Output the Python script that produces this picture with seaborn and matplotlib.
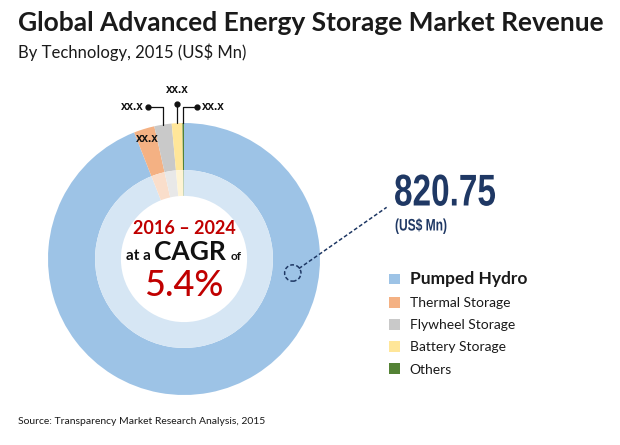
import numpy as np
import matplotlib
matplotlib.use("Agg")
import matplotlib.pyplot as plt
import matplotlib.colors as mcolors
from matplotlib.patches import Circle
from matplotlib.patheffects import AbstractPathEffect
from matplotlib.transforms import Affine2D
import seaborn as sns

# Data
technologies = ["Pumped Hydro", "Thermal Storage", "Flywheel Storage", "Battery Storage", "Others"]
revenue = [820.75, 21.5, 18.0, 11.0, 1.6]
colors = ["#9DC3E6", "#F4B183", "#C9C9C9", "#FFE699", "#548235"]
headline_value = "820.75"
headline_unit = "(US$ Mn)"
cagr_period = "2016 \u2013 2024"
cagr_value = "5.4%"
placeholder = "xx.x"

sns.set_theme(style="white")
plt.rcParams["font.family"] = ["Lato", "DejaVu Sans"]


class Squash(AbstractPathEffect):
    # narrows text horizontally around its origin (no condensed font installed)
    def __init__(self, sx):
        super().__init__()
        self.sx = sx

    def draw_path(self, renderer, gc, tpath, affine, rgbFace=None):
        renderer.draw_path(gc, tpath, Affine2D().scale(self.sx, 1) + affine, rgbFace)


W, H = 620, 445
fig = plt.figure(figsize=(W / 100, H / 100), dpi=100)
fig.patch.set_facecolor("white")

# donut axes, placed in pixel terms
cx, cy, R = 184, 259, 136
ax = fig.add_axes([(cx - R) / W, (H - cy - R) / H, 2 * R / W, 2 * R / H])

faded = [tuple(np.array(mcolors.to_rgb(c)) * 0.42 + 0.58) for c in colors]

wedges, _ = ax.pie(revenue, colors=colors, radius=1.0, startangle=90, counterclock=False,
                   wedgeprops=dict(width=0.346, linewidth=0))
ax.pie(revenue, colors=faded, radius=0.654, startangle=90, counterclock=False,
       wedgeprops=dict(width=0.19, linewidth=0))
ax.set_xlim(-1, 1)
ax.set_ylim(-1, 1)
ax.set_aspect("equal")
ax.axis("off")

# wedge mid angles (clockwise from 12 o'clock)
frac = np.array(revenue) / np.sum(revenue)
mid = 2 * np.pi * (np.cumsum(frac) - frac / 2)
mx, my = np.sin(mid), np.cos(mid)

lbl = dict(fontsize=8.5, fontweight="bold", color="#111111", family=["Liberation Sans", "DejaVu Sans"])
line = dict(color="#111111", lw=0.9, clip_on=False)

# thermal label inside the slice
ax.text(mx[1] * 0.92, my[1] * 0.92, placeholder, ha="center", va="center", **lbl)

# flywheel leader
x2 = mx[2]
ax.plot([x2, x2, -0.265], [np.sqrt(1 - x2 ** 2), 1.118, 1.118], **line)
ax.plot(-0.265, 1.118, "o", ms=3.5, color="#111111", clip_on=False)
ax.text(-0.30, 1.118, placeholder, ha="right", va="center", **lbl)

# battery leader
x3 = mx[3]
ax.plot([x3, x3], [np.sqrt(1 - x3 ** 2), 1.14], **line)
ax.plot(x3, 1.14, "o", ms=3.5, color="#111111", clip_on=False)
ax.text(x3, 1.20, placeholder, ha="center", va="bottom", **lbl)

# others leader
x4 = mx[4]
ax.plot([x4, x4, 0.096], [np.sqrt(1 - x4 ** 2), 1.118, 1.118], **line)
ax.plot(0.096, 1.118, "o", ms=3.5, color="#111111", clip_on=False)
ax.text(0.135, 1.118, placeholder, ha="left", va="center", **lbl)

# dashed callout on pumped hydro
navy = "#1F3864"
ax.add_patch(Circle((0.80, -0.103), 0.06, fill=False, ec=navy, lw=1.1, ls=(0, (2.5, 1.5)), clip_on=False))
ax.plot([0.845, 1.49], [-0.07, 0.38], color=navy, lw=1.1, ls=(0, (2.5, 1.5)), clip_on=False)

# overlay in pixel coordinates for texts
ov = fig.add_axes([0, 0, 1, 1])
ov.set_xlim(0, W)
ov.set_ylim(H, 0)
ov.axis("off")
ov.patch.set_alpha(0)

ov.text(18, 23, "Global Advanced Energy Storage Market Revenue", fontsize=19, fontweight="bold",
        color="#1a1a1a", ha="left", va="center")
ov.text(18, 52, "By Technology, 2015 (US$ Mn)", fontsize=12, color="#1a1a1a", ha="left", va="center")
ov.text(18, 421, "Source: Transparency Market Research Analysis, 2015", fontsize=7.5,
        color="#1a1a1a", ha="left", va="center")

narrow = ["Liberation Sans", "DejaVu Sans"]
ov.text(394, 194, headline_value, fontsize=32, fontweight="bold", color=navy, family=narrow,
        ha="left", va="center", path_effects=[Squash(0.75)])
ov.text(395, 226, headline_unit, fontsize=12, fontweight="bold", color=navy, family=narrow,
        ha="left", va="center", path_effects=[Squash(0.72)])

red = "#C00000"
ov.text(184, 229, cagr_period, fontsize=13, fontweight="bold", color=red, ha="center", va="center")
ov.text(190, 260, "CAGR", fontsize=19, fontweight="bold", color="#111111", ha="center", va="baseline")
ov.text(151, 260, "at a", fontsize=11, fontweight="bold", color="#111111", ha="right", va="baseline")
ov.text(231, 260, "of", fontsize=8.5, fontweight="bold", color="#111111", ha="left", va="baseline")
ov.text(184, 285, cagr_value, fontsize=26, fontweight="medium", color=red, ha="center", va="center")

leg = ov.legend(wedges, technologies, loc="upper left", bbox_to_anchor=(389 / W, (H - 271) / H),
                bbox_transform=fig.transFigure, frameon=False, fontsize=10, handlelength=0.8,
                handleheight=0.8, handletextpad=0.7, labelspacing=0.72, borderpad=0,
                borderaxespad=0, labelcolor="#1a1a1a")
leg.get_texts()[0].set_fontweight("bold")
leg.get_texts()[0].set_fontsize(12.5)

fig.savefig("out.png", dpi=100, facecolor="white")
